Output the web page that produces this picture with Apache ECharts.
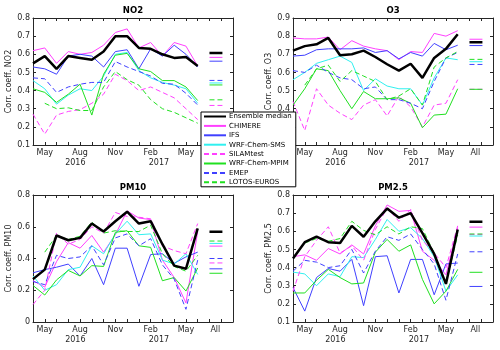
<!DOCTYPE html>
<html>
<head>
<meta charset="utf-8">
<script src="https://cdn.jsdelivr.net/npm/echarts@6/dist/echarts.min.js"></script>
<style>
html, body { margin: 0; padding: 0; background: #fff; }
#main { width: 500px; height: 350px; }
</style>
</head>
<body>
<div id="main"></div>
<script>
// models, same order as the legend
const models = ['Ensemble median', 'CHIMERE', 'IFS', 'WRF-Chem-SMS', 'SILAMtest', 'WRF-Chem-MPIM', 'EMEP', 'LOTOS-EUROS'];
// x positions: 0 = Apr 2016 ... 14 = Jun 2017
const tickPos = [1, 4, 7, 10, 13, 15.5];
const tickText = ['May', 'Aug', 'Nov', 'Feb', 'May', 'All'];
const yearPos = [3.6, 10.7];
const yearText = ['2016', '2017'];

// monthly correlation, one row per model (order = models)
const no2Values = [
    [0.55, 0.59, 0.52, 0.59, 0.58, 0.57, 0.615, 0.70, 0.70, 0.635, 0.63, 0.60, 0.58, 0.585, 0.535],
    [0.62, 0.635, 0.55, 0.615, 0.60, 0.61, 0.65, 0.72, 0.74, 0.635, 0.665, 0.59, 0.665, 0.645, 0.535],
    [0.53, 0.52, 0.49, 0.59, 0.60, 0.59, 0.53, 0.615, 0.625, 0.52, 0.63, 0.59, 0.65, 0.60, 0.53],
    [0.455, 0.41, 0.325, 0.375, 0.41, 0.40, 0.48, 0.60, 0.61, 0.51, 0.47, 0.445, 0.43, 0.41, 0.33],
    [0.27, 0.16, 0.265, 0.285, 0.295, 0.33, 0.38, 0.49, 0.455, 0.40, 0.42, 0.39, 0.36, 0.30, 0.24],
    [0.41, 0.39, 0.335, 0.38, 0.435, 0.265, 0.49, 0.595, 0.605, 0.52, 0.505, 0.455, 0.455, 0.42, 0.345],
    [0.47, 0.465, 0.39, 0.42, 0.435, 0.445, 0.445, 0.56, 0.53, 0.505, 0.48, 0.44, 0.435, 0.385, 0.32],
    ['-', 0.33, 0.30, 0.305, 0.29, 0.29, 0.42, 0.505, 0.46, 0.43, 0.35, 0.30, 0.28, 0.25, 0.22]
];
const no2All = [0.607, 0.583, 0.562, 0.442, 0.318, 0.431, 0.456, 0.349];

const o3Values = [
    [0.72, 0.745, 0.755, 0.79, 0.695, 0.70, 0.72, 0.685, 0.645, 0.61, 0.648, 0.57, 0.68, 0.73, 0.81],
    [0.79, 0.785, 0.785, 0.795, 0.725, 0.775, 0.745, 0.73, 0.72, 0.67, 0.715, 0.71, 0.815, 0.80, 0.83],
    [0.69, 0.695, 0.725, 0.73, 0.73, 0.73, 0.735, 0.71, 0.72, 0.675, 0.71, 0.69, 0.76, 0.725, 0.75],
    [0.56, 0.60, 0.65, 0.67, 0.69, 0.655, 0.50, 0.565, 0.525, 0.51, 0.51, 0.42, 0.57, 0.68, 0.67],
    [0.44, 0.28, 0.51, 0.42, 0.375, 0.34, 0.42, 0.45, 0.36, 0.47, 0.41, 0.30, 0.42, 0.43, 0.56],
    [0.42, 0.51, 0.62, 0.61, 0.50, 0.40, 0.495, 0.455, 0.455, 0.46, 0.43, 0.295, 0.365, 0.37, 0.51],
    [0.61, 0.60, 0.64, 0.60, 0.57, 0.56, 0.51, 0.52, 0.45, 0.45, 0.43, 0.40, 0.55, 0.68, 0.71],
    ['-', 0.53, 0.62, 0.64, 0.55, 0.61, 0.58, 0.55, 0.45, 0.47, 0.51, 0.42, 0.63, 0.68, 0.715]
];
const o3All = [0.767, 0.783, 0.748, 0.659, 0.507, 0.507, 0.644, 0.672];

const pm10Values = [
    [0.27, 0.33, 0.545, 0.515, 0.53, 0.62, 0.57, 0.635, 0.695, 0.62, 0.635, 0.49, 0.355, 0.335, 0.59],
    [0.26, 0.22, 0.38, 0.50, 0.465, 0.545, 0.44, 0.55, 0.70, 0.655, 0.645, 0.39, 0.28, 0.12, 0.57],
    [0.31, 0.33, 0.345, 0.365, 0.29, 0.40, 0.235, 0.465, 0.465, 0.225, 0.425, 0.43, 0.37, 0.41, 0.44],
    [0.29, 0.20, 0.235, 0.33, 0.345, 0.48, 0.43, 0.555, 0.635, 0.55, 0.555, 0.39, 0.365, 0.43, 0.30],
    [0.11, 0.20, 0.56, 0.49, 0.52, 0.60, 0.56, 0.69, 0.665, 0.66, 0.65, 0.48, 0.45, 0.43, 0.62],
    [0.23, 0.17, 0.265, 0.325, 0.29, 0.355, 0.35, 0.565, 0.575, 0.48, 0.47, 0.26, 0.28, 0.195, 0.34],
    [0.255, 0.235, 0.42, 0.40, 0.41, 0.48, 0.36, 0.53, 0.555, 0.48, 0.525, 0.36, 0.27, 0.08, 0.39],
    ['-', 0.44, 0.545, 0.52, 0.54, 0.63, 0.56, 0.575, 0.57, 0.57, 0.61, 0.43, 0.35, 0.32, 0.42]
];
const pm10All = [0.568, 0.478, 0.335, 0.495, 0.372, 0.307, 0.40, 0.51];

const pm25Values = [
    [0.45, 0.54, 0.57, 0.54, 0.535, 0.63, 0.57, 0.655, 0.725, 0.675, 0.70, 0.59, 0.475, 0.31, 0.61],
    [0.46, 0.47, 0.44, 0.505, 0.475, 0.525, 0.475, 0.63, 0.745, 0.71, 0.715, 0.49, 0.44, 0.36, 0.62],
    [0.29, 0.16, 0.345, 0.395, 0.38, 0.445, 0.19, 0.46, 0.465, 0.26, 0.445, 0.445, 0.25, 0.42, 0.425],
    [0.375, 0.365, 0.30, 0.365, 0.35, 0.46, 0.455, 0.555, 0.665, 0.60, 0.62, 0.56, 0.46, 0.27, 0.36],
    [0.27, 0.46, 0.55, 0.625, 0.48, 0.52, 0.44, 0.61, 0.73, 0.655, 0.72, 0.55, 0.48, 0.40, 0.63],
    [0.26, 0.26, 0.33, 0.39, 0.345, 0.31, 0.315, 0.485, 0.555, 0.49, 0.525, 0.335, 0.20, 0.27, 0.39],
    [0.38, 0.44, 0.43, 0.40, 0.41, 0.50, 0.37, 0.49, 0.57, 0.55, 0.585, 0.50, 0.42, 0.22, 0.475],
    ['-', 0.535, 0.56, 0.545, 0.56, 0.655, 0.605, 0.58, 0.625, 0.585, 0.625, 0.615, 0.48, 0.31, 0.58]
];
const pm25All = [0.653, 0.623, 0.296, 0.574, 0.583, 0.374, 0.487, 0.585];

// line styles (order = models)
const styles = [
    { color: '#000000', width: 2.5, type: 'solid' },
    { color: '#ff40ff', width: 1, type: 'solid' },
    { color: '#4040ff', width: 1, type: 'solid' },
    { color: '#30f0f0', width: 1, type: 'solid' },
    { color: '#ff40ff', width: 1, type: [5, 3] },
    { color: '#20e020', width: 1, type: 'solid' },
    { color: '#4040ff', width: 1, type: [5, 3] },
    { color: '#20e020', width: 1, type: [5, 3] }
];

const panels = [
    { title: 'NO2', left: 33, top: 18, min: 0.1, max: 0.8, step: 0.1, values: no2Values, all: no2All },
    { title: 'O3', left: 293, top: 18, min: 0.2, max: 0.9, step: 0.1, values: o3Values, all: o3All },
    { title: 'PM10', left: 33, top: 195, min: 0, max: 0.8, step: 0.2, values: pm10Values, all: pm10All },
    { title: 'PM2.5', left: 293, top: 195, min: 0.1, max: 0.8, step: 0.1, values: pm25Values, all: pm25All }
];

const axisColor = '#262626';
const monthTicks = [];
for (let i = 1; i <= 16; i++) monthTicks.push(i);

const labelText = {};
tickPos.forEach((p, i) => { labelText[p] = tickText[i]; });
yearPos.forEach((p, i) => { labelText[p] = '\n' + yearText[i]; });

const grid = [], xAxis = [], yAxis = [], series = [];
panels.forEach(function (p, gi) {
    grid.push({ left: p.left, top: p.top, width: 200, height: 127, show: false });
    // bottom axis with month labels and years
    xAxis.push({
        type: 'value', gridIndex: gi, min: 0, max: 17, position: 'bottom',
        splitLine: { show: false },
        axisLine: { show: true, onZero: false, lineStyle: { color: axisColor } },
        axisTick: { show: true, inside: true, length: 3, customValues: monthTicks, lineStyle: { color: axisColor } },
        axisLabel: {
            customValues: tickPos.concat(yearPos), margin: 3, fontSize: 8, color: axisColor, lineHeight: 10,
            formatter: function (v) { return labelText[v] || ''; }
        }
    });
    // top axis: box edge + title
    xAxis.push({
        type: 'value', gridIndex: gi, min: 0, max: 17, position: 'top',
        name: p.title, nameLocation: 'middle', nameGap: 3,
        nameTextStyle: { fontSize: 8.5, fontWeight: 'bold', color: '#000' },
        splitLine: { show: false },
        axisLine: { show: true, onZero: false, lineStyle: { color: axisColor } },
        axisTick: { show: true, inside: true, length: 3, customValues: monthTicks, lineStyle: { color: axisColor } },
        axisLabel: { show: false }
    });
    yAxis.push({
        type: 'value', gridIndex: gi, min: p.min, max: p.max, interval: p.step, position: 'left',
        name: 'Corr. coeff. ' + p.title, nameLocation: 'middle', nameGap: 16,
        nameTextStyle: { fontSize: 8, color: axisColor },
        splitLine: { show: false },
        axisLine: { show: true, onZero: false, lineStyle: { color: axisColor } },
        axisTick: { show: true, inside: true, length: 3, lineStyle: { color: axisColor } },
        axisLabel: { margin: 3, fontSize: 8, color: axisColor, formatter: function (v) { return +v.toFixed(1) + ''; } }
    });
    yAxis.push({
        type: 'value', gridIndex: gi, min: p.min, max: p.max, interval: p.step, position: 'right',
        splitLine: { show: false },
        axisLine: { show: true, onZero: false, lineStyle: { color: axisColor } },
        axisTick: { show: true, inside: true, length: 3, lineStyle: { color: axisColor } },
        axisLabel: { show: false }
    });
    // draw models first, ensemble median on top
    const order = [1, 2, 3, 4, 5, 6, 7, 0];
    order.forEach(function (m) {
        const data = p.values[m].map(function (v, i) { return [i, v]; });
        data.push([14.5, '-'], [15, p.all[m]], [16.1, p.all[m]]); // "All" dash
        series.push({
            name: models[m], type: 'line', xAxisIndex: gi * 2, yAxisIndex: gi * 2,
            data: data, symbol: 'none', silent: true, animation: false,
            lineStyle: { color: styles[m].color, width: styles[m].width, type: styles[m].type },
            itemStyle: { color: styles[m].color }
        });
    });
});

const my_echart = echarts.init(document.getElementById('main'));
const option = {
    backgroundColor: '#fff',
    animation: false,
    textStyle: { fontFamily: 'DejaVu Sans' },
    grid: grid,
    xAxis: xAxis,
    yAxis: yAxis,
    legend: {
        orient: 'vertical', left: 201, top: 112, z: 10,
        data: models,
        backgroundColor: '#fff', borderColor: '#000', borderWidth: 1, borderRadius: 0,
        padding: [1, 4, 1, 2], itemWidth: 22, itemHeight: 8, itemGap: 2.4,
        itemStyle: { opacity: 0 }, // line only, no marker
        textStyle: { fontSize: 7, color: '#000', padding: [0, 0, 0, -2] },
        selectedMode: false
    },
    series: series
};
my_echart.setOption(option);
</script>
</body>
</html>
